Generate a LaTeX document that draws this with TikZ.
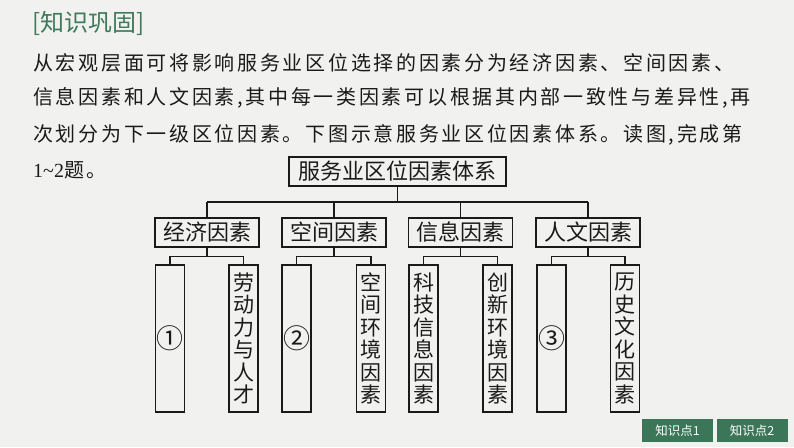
\documentclass[tikz,border=0pt]{standalone}
\usepackage{fontspec}
\usetikzlibrary{calc}
\setmainfont{Liberation Serif}
\newfontfamily\cjk{Noto Sans CJK SC}
\newfontfamily\cjkls{Noto Sans CJK SC}[LetterSpace=13.5]
\definecolor{bgpaper}{HTML}{F1F1EF}
\definecolor{titlegreen}{HTML}{3F7A5A}
\definecolor{btngreen}{HTML}{3C7658}
\definecolor{inkblack}{HTML}{1A1A1A}
\begin{document}
\begin{tikzpicture}[x=1pt,y=-1pt,
  bodytext/.style={anchor=west,inner sep=0pt,text=inkblack,font=\cjkls\fontsize{20}{24}\selectfont},
  topbox/.style={draw=inkblack,line width=1.4pt,inner sep=0pt,minimum width=217pt,minimum height=29pt,font=\cjk\fontsize{22}{26}\selectfont,text=inkblack},
  midbox/.style={draw=inkblack,line width=1.4pt,inner sep=0pt,minimum width=104pt,minimum height=29pt,font=\cjk\fontsize{22}{26}\selectfont,text=inkblack},
  leafbox/.style={draw=inkblack,line width=1.4pt,inner sep=0pt,minimum width=29pt,minimum height=147pt,align=center,font=\cjk\fontsize{21}{22.5}\selectfont,text=inkblack},
  numbox/.style={leafbox,font=\cjk\fontsize{27}{30}\selectfont},
  conn/.style={draw=inkblack,line width=1.3pt},
  bus/.style={draw=inkblack,line width=1.8pt},
  btn/.style={fill=btngreen,inner sep=0pt,minimum width=71pt,minimum height=23pt,text=white,font=\cjk\fontsize{12.5}{14}\selectfont}
]
\fill[bgpaper] (0,0) rectangle (794,447);
\useasboundingbox (0,0) rectangle (794,447);

% title
\node[anchor=west,inner sep=0pt,text=titlegreen,font=\cjk\fontsize{24}{28}\selectfont] (title) at (32,23) {[知识巩固]};

% body text
\node[bodytext] (l1) at (33,63) {从宏观层面可将影响服务业区位选择的因素分为经济因素、空间因素、};
\node[bodytext] (l2) at (33,98) {信息因素和人文因素,其中每一类因素可以根据其内部一致性与差异性,再};
\node[bodytext] (l3) at (33,135) {次划分为下一级区位因素。下图示意服务业区位因素体系。读图,完成第};
\node[bodytext] (l4) at (33,170) {{\rmfamily\fontsize{20}{24}\selectfont 1\textasciitilde 2}题。};

% diagram
\node[topbox] (top) at (397.5,171.5) {服务业区位因素体系};

\node[midbox] (m1) at (207,232.5) {经济因素};
\node[midbox] (m2) at (334,232.5) {空间因素};
\node[midbox] (m3) at (460.5,232.5) {信息因素};
\node[midbox] (m4) at (588,232.5) {人文因素};

\node[numbox] (a1) at (170,338.5) {①};
\node[leafbox] (a2) at (243.5,338.5) {劳\\动\\力\\与\\人\\才};
\node[numbox] (b1) at (296.5,338.5) {②};
\node[leafbox] (b2) at (371,338.5) {空\\间\\环\\境\\因\\素};
\node[leafbox] (c1) at (423.5,338.5) {科\\技\\信\\息\\因\\素};
\node[leafbox] (c2) at (497.5,338.5) {创\\新\\环\\境\\因\\素};
\node[numbox] (d1) at (551.5,338.5) {③};
\node[leafbox] (d2) at (625,338.5) {历\\史\\文\\化\\因\\素};

% top connectors
\coordinate (busT) at (397.5,202);
\draw[conn] (top.south) -- (busT);
\draw[bus] (m1.north |- busT) -- (m4.north |- busT);
\foreach \m in {m1,m2,m3,m4} {\draw[conn] (\m.north |- busT) -- (\m.north);}

% lower connectors
\foreach \m/\p/\q in {m1/a1/a2, m2/b1/b2, m3/c1/c2, m4/d1/d2} {
  \coordinate (j\m) at ($(\m.south)+(0,9)$);
  \draw[conn] (\m.south) -- (j\m);
  \draw[conn] (\p.north) |- (j\m) -| (\q.north);
}

% buttons
\node[btn] (k1) at (677.5,430.5) {知识点1};
\node[btn] (k2) at (752,430.5) {知识点2};
\end{tikzpicture}
\end{document}
